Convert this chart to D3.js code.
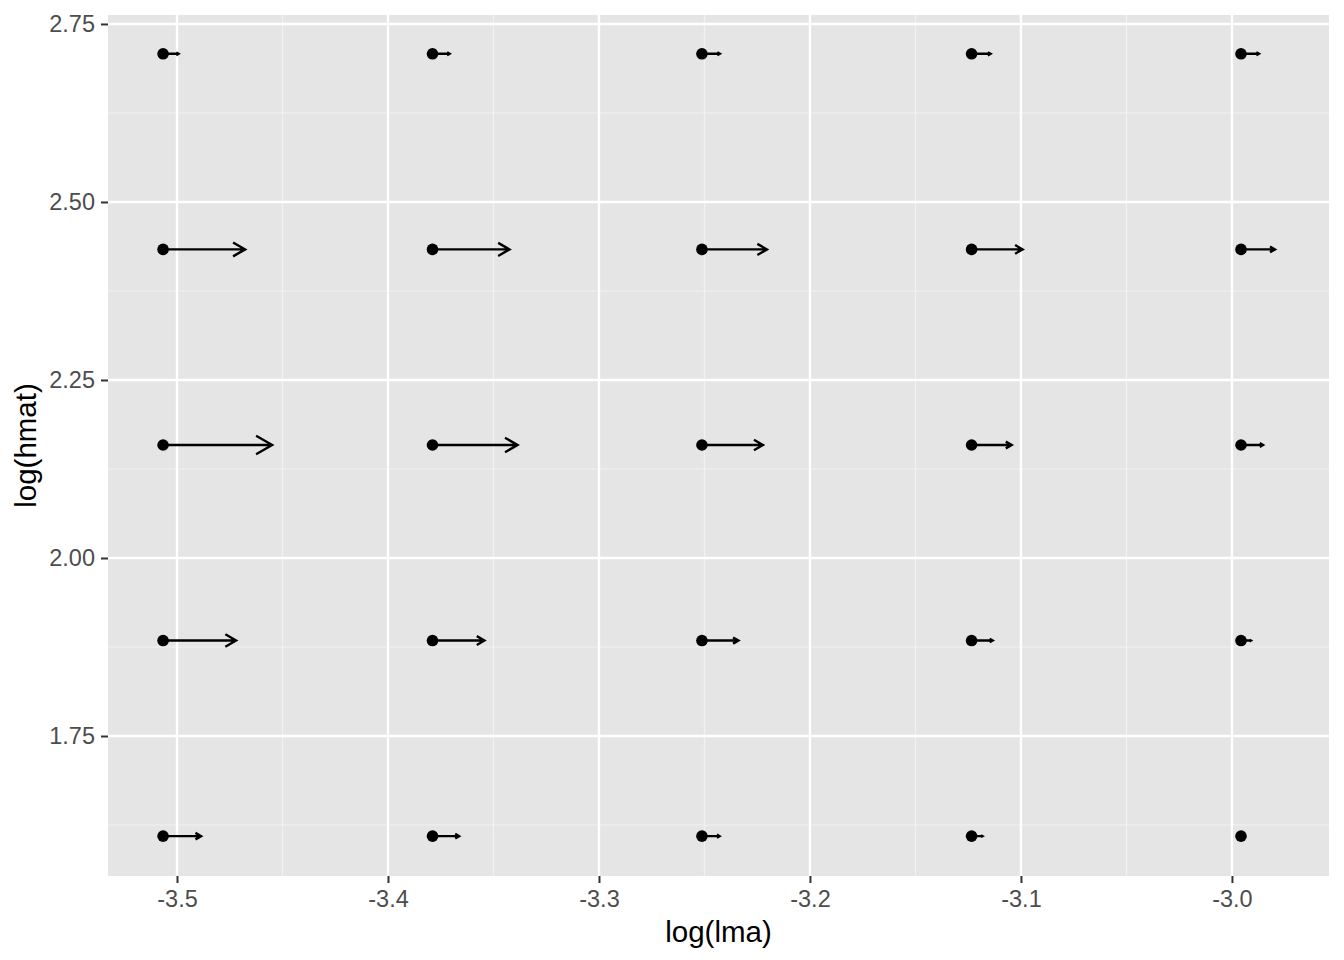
<!DOCTYPE html>
<html>
<head>
<meta charset="utf-8">
<script src="https://cdn.jsdelivr.net/npm/d3@7"></script>
<style>
  body { margin: 0; background: #fff; }
  text { font-family: "Liberation Sans", Arial, sans-serif; }
</style>
</head>
<body>
<div id="chart"></div>
<script>
// grid of log(lma) and log(hmat) values
var lmaValues = [-3.5066, -3.3789, -3.2512, -3.1234, -2.9957];
var hmatValues = [2.7081, 2.4334, 2.1587, 1.8841, 1.6094];

// arrow lengths (change in log(lma)), one row per hmat value
var dLma = [
	[0.0073, 0.0081, 0.0085, 0.0090, 0.0085],
	[0.0389, 0.0365, 0.0308, 0.0242, 0.0161],
	[0.0517, 0.0403, 0.0289, 0.0190, 0.0104],
	[0.0346, 0.0246, 0.0173, 0.0100, 0.0047],
	[0.0180, 0.0126, 0.0083, 0.0052, 0.0005]
];

var xTicks = [-3.5, -3.4, -3.3, -3.2, -3.1, -3.0];
var xMinor = [-3.45, -3.35, -3.25, -3.15, -3.05];
var yTicks = [1.75, 2.0, 2.25, 2.5, 2.75];
var yMinor = [1.625, 1.875, 2.125, 2.375, 2.625];

var margin = { top: 15, right: 15, bottom: 84, left: 108 };
var width = 1344 - margin.left - margin.right;
var height = 960 - margin.top - margin.bottom;

var svg = d3
	.select("#chart")
	.append("svg")
	.attr("width", 1344)
	.attr("height", 960);

var g = svg
	.append("g")
	.attr("transform", "translate(" + margin.left + "," + margin.top + ")");

var x = d3.scaleLinear().domain([-3.5327, -2.954]).range([0, width]);
var y = d3.scaleLinear().domain([1.5534, 2.7626]).range([height, 0]);

// panel background
g.append("rect")
	.attr("width", width)
	.attr("height", height)
	.attr("fill", "#E5E5E5");

// minor grid
g.selectAll(".xminor")
	.data(xMinor)
	.enter()
	.append("line")
	.attr("x1", (d) => x(d))
	.attr("x2", (d) => x(d))
	.attr("y1", 0)
	.attr("y2", height)
	.attr("stroke", "#F2F2F2")
	.attr("stroke-width", 1.2);

g.selectAll(".yminor")
	.data(yMinor)
	.enter()
	.append("line")
	.attr("y1", (d) => y(d))
	.attr("y2", (d) => y(d))
	.attr("x1", 0)
	.attr("x2", width)
	.attr("stroke", "#F2F2F2")
	.attr("stroke-width", 1.2);

// major grid
g.selectAll(".xmajor")
	.data(xTicks)
	.enter()
	.append("line")
	.attr("x1", (d) => x(d))
	.attr("x2", (d) => x(d))
	.attr("y1", 0)
	.attr("y2", height)
	.attr("stroke", "#FFFFFF")
	.attr("stroke-width", 2.4);

g.selectAll(".ymajor")
	.data(yTicks)
	.enter()
	.append("line")
	.attr("y1", (d) => y(d))
	.attr("y2", (d) => y(d))
	.attr("x1", 0)
	.attr("x2", width)
	.attr("stroke", "#FFFFFF")
	.attr("stroke-width", 2.4);

// axes (hyphen minus like R, not the unicode minus)
var xAxis = g
	.append("g")
	.attr("transform", "translate(0," + height + ")")
	.call(
		d3.axisBottom(x)
			.tickValues(xTicks)
			.tickFormat((d) => d.toFixed(1))
			.tickSize(7)
			.tickPadding(7)
	);

var yAxis = g
	.append("g")
	.call(
		d3.axisLeft(y)
			.tickValues(yTicks)
			.tickFormat((d) => d.toFixed(2))
			.tickSize(7)
			.tickPadding(6)
	);

[xAxis, yAxis].forEach((ax) => {
	ax.select(".domain").remove();
	ax.attr("font-family", null).attr("font-size", null);
	ax.selectAll(".tick line").attr("stroke", "#333333").attr("stroke-width", 2);
	ax.selectAll(".tick text")
		.attr("fill", "#4D4D4D")
		.style("font-size", "23.5px");
});

// arrows
var arrows = [];
hmatValues.forEach((h, i) => {
	lmaValues.forEach((l, j) => {
		arrows.push({ lma: l, hmat: h, d: dLma[i][j] });
	});
});

var angle = Math.PI / 6;

g.selectAll(".arrow")
	.data(arrows)
	.enter()
	.append("path")
	.attr("class", "arrow")
	.attr("d", (d) => {
		var x0 = x(d.lma);
		var x1 = x(d.lma + d.d);
		var yy = y(d.hmat);
		var len = x1 - x0;
		var head = len * 0.17;
		var hx = head * Math.cos(angle);
		var hy = head * Math.sin(angle);
		return (
			"M" + x0 + "," + yy + "L" + x1 + "," + yy +
			"M" + (x1 - hx) + "," + (yy - hy) + "L" + x1 + "," + yy +
			"L" + (x1 - hx) + "," + (yy + hy)
		);
	})
	.attr("fill", "none")
	.attr("stroke", "#000")
	.attr("stroke-width", 2.4);

g.selectAll(".point")
	.data(arrows)
	.enter()
	.append("circle")
	.attr("class", "point")
	.attr("cx", (d) => x(d.lma))
	.attr("cy", (d) => y(d.hmat))
	.attr("r", 5.8)
	.attr("fill", "#000");

// axis titles
svg.append("text")
	.attr("x", margin.left + width / 2)
	.attr("y", 942)
	.attr("text-anchor", "middle")
	.style("font-size", "29.5px")
	.attr("fill", "#000")
	.text("log(lma)");

svg.append("text")
	.attr("transform", "translate(36," + (margin.top + height / 2) + ") rotate(-90)")
	.attr("text-anchor", "middle")
	.style("font-size", "29.5px")
	.attr("fill", "#000")
	.text("log(hmat)");
</script>
</body>
</html>
